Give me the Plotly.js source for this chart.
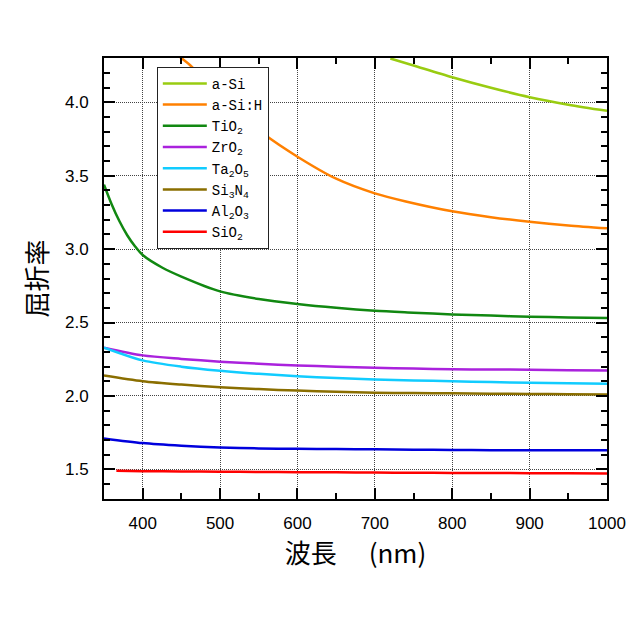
<!DOCTYPE html>
<html>
<head>
<meta charset="utf-8">
<script src="https://cdn.plot.ly/plotly-3.0.1.min.js"></script>
<style>html,body{margin:0;padding:0;background:#fff;}#chart{width:640px;height:640px;}</style>
</head>
<body>
<div id="chart"></div>
<script>
// wavelengths (nm) and refractive index values
const wlASi   = [720, 750, 800, 850, 900, 950, 1000];
const nASi    = [4.30, 4.252, 4.172, 4.10, 4.036, 3.985, 3.943];

const wlASiH  = [448, 461, 500, 525, 556, 600, 650, 700, 740, 800, 850, 900, 950, 1000];
const nASiH   = [4.31, 4.255, 4.04, 3.92, 3.786, 3.63, 3.48, 3.38, 3.325, 3.258, 3.218, 3.187, 3.162, 3.142];

const wlTiO2  = [350, 360, 370, 380, 390, 400, 425, 450, 500, 550, 600, 650, 700, 750, 800, 850, 900, 950, 1000];
const nTiO2   = [3.44, 3.305, 3.19, 3.095, 3.02, 2.96, 2.875, 2.813, 2.712, 2.66, 2.626, 2.60, 2.58, 2.567, 2.555, 2.547, 2.54, 2.535, 2.53];

const wl      = [350, 400, 450, 500, 550, 600, 650, 700, 750, 800, 850, 900, 950, 1000];
const nZrO2   = [2.329, 2.276, 2.252, 2.233, 2.219, 2.207, 2.199, 2.192, 2.186, 2.181, 2.180, 2.178, 2.175, 2.173];
const nTa2O5  = [2.329, 2.242, 2.199, 2.171, 2.150, 2.134, 2.122, 2.112, 2.105, 2.100, 2.094, 2.089, 2.086, 2.082];
const nSi3N4  = [2.139, 2.100, 2.077, 2.059, 2.046, 2.036, 2.028, 2.021, 2.019, 2.017, 2.015, 2.013, 2.011, 2.009];
const nAl2O3  = [1.710, 1.678, 1.660, 1.648, 1.642, 1.639, 1.637, 1.636, 1.633, 1.631, 1.630, 1.630, 1.629, 1.629];

const wlSiO2  = [366, 400, 450, 500, 550, 600, 650, 700, 750, 800, 850, 900, 950, 1000];
const nSiO2   = [1.490, 1.487, 1.485, 1.483, 1.481, 1.480, 1.479, 1.477, 1.476, 1.475, 1.474, 1.473, 1.472, 1.470];

const names = ['a-Si', 'a-Si:H', 'TiO<sub>2</sub>', 'ZrO<sub>2</sub>', 'Ta<sub>2</sub>O<sub>5</sub>',
               'Si<sub>3</sub>N<sub>4</sub>', 'Al<sub>2</sub>O<sub>3</sub>', 'SiO<sub>2</sub>'];
const colors = ['#99cc11', '#ff8000', '#118811', '#aa22dd', '#11ccff', '#8a6e00', '#0000dd', '#ff0000'];
const xs = [wlASi, wlASiH, wlTiO2, wl, wl, wl, wl, wlSiO2];
const ys = [nASi, nASiH, nTiO2, nZrO2, nTa2O5, nSi3N4, nAl2O3, nSiO2];

const traces = names.map((n, i) => ({
  x: xs[i], y: ys[i], name: n, type: 'scatter', mode: 'lines',
  line: {color: colors[i], width: 2.5, shape: 'spline', smoothing: 0.8}
}));

const axisCommon = {
  showline: true, linecolor: '#000', linewidth: 2, mirror: 'allticks',
  ticks: 'inside', ticklen: 11, tickwidth: 2, tickcolor: '#000',
  showgrid: true, gridcolor: '#444', gridwidth: 1, griddash: '1px,1px',
  zeroline: false,
  tickfont: {family: 'Liberation Sans, Arial, sans-serif', size: 17, color: '#000'}
};

const layout = {
  width: 640, height: 640,
  margin: {l: 104, r: 33, t: 58, b: 141},
  paper_bgcolor: '#fff', plot_bgcolor: '#fff',
  showlegend: true,
  legend: {
    x: 0.105, y: 0.98, xanchor: 'left', yanchor: 'top',
    bgcolor: '#fff', bordercolor: '#222', borderwidth: 1,
    itemwidth: 44,
    font: {family: 'Liberation Mono, DejaVu Sans Mono, monospace', size: 14, color: '#000'},
    tracegroupgap: 0
  },
  xaxis: Object.assign({}, axisCommon, {
    range: [350, 1000], dtick: 100, tick0: 0,
    minor: {dtick: 50, ticklen: 6, tickwidth: 2, tickcolor: '#000', ticks: 'inside', showgrid: false},
    ticklabelstandoff: 8,
    title: {text: '波長　 (nm)', font: {family: 'Noto Sans CJK JP, sans-serif', size: 26, color: '#000'}, standoff: 8}
  }),
  yaxis: Object.assign({}, axisCommon, {
    range: [1.297, 4.303], dtick: 0.5, tick0: 0, tickformat: '.1f',
    minor: {dtick: 0.1, ticklen: 6, tickwidth: 2, tickcolor: '#000', ticks: 'inside', showgrid: false},
    ticklabelstandoff: 10,
    title: {text: '屈折率', font: {family: 'Noto Sans CJK JP, sans-serif', size: 26, color: '#000'}, standoff: 10}
  })
};

Plotly.newPlot('chart', traces, layout, {displayModeBar: false, staticPlot: true});
</script>
</body>
</html>
